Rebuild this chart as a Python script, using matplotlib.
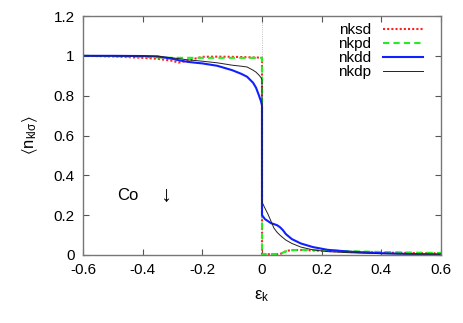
import numpy as np
from matplotlib import pyplot as plt

plt.rcParams['font.family'] = ['Liberation Sans', 'DejaVu Sans']

# occupation numbers (below / above the Fermi level)
x_lo = [-0.6, -0.5, -0.4, -0.35, -0.3, -0.28, -0.25, -0.22, -0.2, -0.15, -0.1, -0.07, -0.05, -0.03, -0.02, -0.01, -0.003, 0.0]
x_hi = [0.0, 0.005, 0.01, 0.02, 0.03, 0.04, 0.05, 0.06, 0.07, 0.08, 0.1, 0.13, 0.17, 0.22, 0.3, 0.4, 0.5, 0.6]

nksd_lo = [1.0, 0.997, 0.99, 0.985, 0.975, 0.966, 0.975, 0.988, 0.995, 0.996, 0.995, 0.994, 0.993, 0.992, 0.992, 0.991, 0.99, 0.99]
nksd_hi = [0.0, 0.004, 0.004, 0.004, 0.004, 0.004, 0.004, 0.005, 0.01, 0.02, 0.025, 0.025, 0.023, 0.02, 0.016, 0.012, 0.01, 0.008]

nkpd_lo = [1.0, 0.998, 0.995, 0.992, 0.99, 0.99, 0.99, 0.99, 0.99, 0.99, 0.99, 0.99, 0.99, 0.99, 0.99, 0.99, 0.99, 0.99]
nkpd_hi = [0.0, 0.005, 0.005, 0.005, 0.005, 0.005, 0.005, 0.006, 0.012, 0.018, 0.024, 0.026, 0.025, 0.022, 0.019, 0.015, 0.012, 0.01]

nkdd_lo = [1.0, 1.0, 0.999, 0.997, 0.985, 0.978, 0.97, 0.965, 0.962, 0.95, 0.928, 0.91, 0.895, 0.865, 0.84, 0.8, 0.77, 0.75]
nkdd_hi = [0.2, 0.19, 0.18, 0.17, 0.16, 0.155, 0.15, 0.14, 0.125, 0.105, 0.08, 0.058, 0.04, 0.026, 0.016, 0.009, 0.005, 0.003]

nkdp_lo = [1.0, 1.0, 0.999, 0.998, 0.99, 0.986, 0.98, 0.976, 0.973, 0.965, 0.953, 0.948, 0.944, 0.928, 0.918, 0.903, 0.89, 0.878]
nkdp_hi = [0.265, 0.25, 0.235, 0.205, 0.17, 0.135, 0.115, 0.1, 0.087, 0.075, 0.058, 0.04, 0.026, 0.017, 0.011, 0.007, 0.004, 0.003]

fig = plt.figure(figsize=(4.63, 3.23), dpi=100)
ax = fig.add_axes([83 / 463, 1 - 255 / 323, 358 / 463, 239 / 323])

ax.axvline(0, color='#aaaaaa', lw=0.6, ls=':', zorder=0)

x = x_lo + x_hi
ax.plot(x, nksd_lo + nksd_hi, color='#ff2020', ls=(0, (1, 1)), lw=1.5, label='nksd')
ax.plot(x, nkpd_lo + nkpd_hi, color='#22ee22', ls=(0, (3, 2)), lw=1.5, label='nkpd')
ax.plot(x, nkdd_lo + nkdd_hi, color='#1020ff', lw=1.5, label='nkdd')
ax.plot(x, nkdp_lo + nkdp_hi, color='#222222', lw=0.7, label='nkdp')

ax.set_xlim(-0.6, 0.6)
ax.set_ylim(0, 1.2)
ax.set_xticks(np.arange(-0.6, 0.61, 0.2))
ax.set_xticklabels(['-0.6', '-0.4', '-0.2', '0', '0.2', '0.4', '0.6'])
ax.set_yticks(np.arange(0, 1.21, 0.2))
ax.set_yticklabels(['0', '0.2', '0.4', '0.6', '0.8', '1', '1.2'])
ax.tick_params(direction='in', top=True, right=True, length=4, width=0.8,
               labelsize=11, pad=6, color='#555555')
for s in ax.spines.values():
    s.set_color('#777777')
    s.set_linewidth(1.0)

ax.set_xlabel(r'$\mathregular{\varepsilon_k}$', fontsize=12, labelpad=8)
ax.set_ylabel(r'$\mathregular{\langle n_{kl\sigma}\rangle}$', fontsize=12, labelpad=10)

ax.text(-0.45, 0.3, 'Co', fontsize=12, va='center', ha='center')
ax.text(-0.322, 0.3, '\u2193', fontsize=16, va='center', ha='center')

leg = ax.legend(loc='upper right', frameon=False, fontsize=11, markerfirst=False,
                handlelength=2.6, labelspacing=0.0, borderaxespad=0.3,
                bbox_to_anchor=(0.98, 1.015))
for t in leg.get_texts():
    t.set_ha('right')

fig.savefig('out.png', dpi=100)
